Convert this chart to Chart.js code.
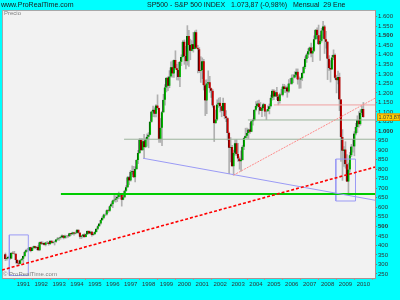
<!DOCTYPE html>
<html>
<head>
<meta charset="utf-8">
<script src="https://cdn.jsdelivr.net/npm/chart.js@4.4.0/dist/chart.umd.min.js"></script>
<style>
  html, body { margin: 0; padding: 0; background: #00ffff; overflow: hidden; }
  canvas { display: block; }
</style>
</head>
<body>
<canvas id="chart" width="400" height="300"></canvas>
<script>
// monthly candles, first one is Jan 1990, last one Jan 2010
const firstYear = 1990;

const opens = [
  353, 329, 332, 340, 331, 361, 358, 356, 323, 306, 304, 322,
  330, 344, 367, 375, 375, 390, 371, 388, 395, 388, 392, 375,
  417, 409, 413, 404, 415, 415, 408, 424, 414, 418, 419, 431,
  436, 439, 443, 452, 440, 450, 451, 448, 464, 459, 468, 462,
  466, 482, 467, 446, 451, 457, 444, 458, 475, 463, 472, 454,
  459, 470, 487, 501, 515, 533, 545, 562, 562, 584, 582, 605,
  616, 636, 640, 646, 654, 669, 671, 640, 652, 687, 705, 757,
  741, 786, 791, 757, 801, 848, 885, 954, 899, 947, 915, 955,
  970, 980, 1049, 1102, 1112, 1091, 1134, 1121, 957, 1017, 1099, 1164,
  1229, 1280, 1238, 1286, 1335, 1302, 1373, 1329, 1320, 1283, 1363, 1389,
  1469, 1394, 1366, 1499, 1452, 1421, 1455, 1431, 1518, 1437, 1429, 1315,
  1320, 1366, 1240, 1160, 1249, 1256, 1224, 1211, 1134, 1041, 1060, 1139,
  1148, 1130, 1107, 1147, 1077, 1067, 990, 912, 916, 815, 886, 936,
  880, 856, 841, 848, 917, 964, 975, 990, 1008, 996, 1051, 1058,
  1112, 1131, 1145, 1126, 1107, 1121, 1141, 1102, 1104, 1115, 1130, 1174,
  1212, 1181, 1204, 1181, 1157, 1192, 1191, 1234, 1220, 1229, 1207, 1249,
  1248, 1280, 1281, 1295, 1311, 1270, 1270, 1277, 1304, 1336, 1378, 1401,
  1418, 1438, 1407, 1421, 1482, 1531, 1503, 1455, 1474, 1527, 1549, 1481,
  1468, 1379, 1331, 1323, 1386, 1400, 1280, 1267, 1283, 1166, 969, 896,
  903, 826, 735, 798, 873, 919, 919, 987, 1021, 1057, 1036, 1096,
  1115
];
const highs = [
  360, 336, 344, 347, 362, 368, 369, 357, 326, 319, 324, 332,
  344, 370, 380, 385, 390, 391, 391, 397, 396, 395, 399, 418,
  421, 419, 414, 417, 422, 417, 425, 425, 423, 423, 432, 442,
  443, 449, 456, 452, 454, 453, 451, 464, 464, 470, 469, 471,
  483, 482, 468, 453, 457, 462, 459, 477, 476, 475, 474, 466,
  472, 489, 504, 515, 534, 551, 564, 565, 587, 587, 609, 622,
  638, 665, 660, 660, 680, 673, 672, 670, 690, 714, 762, 762,
  794, 817, 815, 812, 850, 899, 961, 961, 960, 983, 964, 986,
  992, 1050, 1105, 1131, 1122, 1139, 1190, 1121, 1066, 1104, 1193, 1244,
  1280, 1284, 1317, 1363, 1368, 1373, 1421, 1350, 1361, 1364, 1400, 1474,
  1478, 1445, 1553, 1528, 1482, 1475, 1518, 1525, 1530, 1450, 1438, 1390,
  1384, 1376, 1268, 1269, 1316, 1287, 1226, 1218, 1133, 1110, 1164, 1173,
  1176, 1131, 1173, 1147, 1107, 1070, 994, 966, 925, 900, 954, 955,
  935, 865, 896, 924, 966, 1015, 1016, 1011, 1040, 1054, 1064, 1112,
  1155, 1159, 1163, 1150, 1128, 1146, 1141, 1110, 1132, 1142, 1188, 1218,
  1217, 1212, 1229, 1192, 1199, 1219, 1246, 1245, 1237, 1233, 1270, 1276,
  1295, 1297, 1311, 1326, 1326, 1284, 1281, 1307, 1340, 1390, 1407, 1432,
  1441, 1462, 1439, 1499, 1533, 1541, 1556, 1504, 1539, 1576, 1555, 1523,
  1471, 1396, 1370, 1397, 1426, 1405, 1293, 1314, 1304, 1167, 1008, 918,
  944, 877, 832, 888, 930, 956, 997, 1040, 1080, 1102, 1111, 1130,
  1150
];
const lows = [
  320, 322, 331, 325, 330, 357, 354, 307, 301, 295, 303, 321,
  309, 340, 363, 369, 371, 366, 372, 381, 383, 377, 372, 372,
  404, 404, 401, 397, 410, 401, 404, 411, 412, 402, 416, 426,
  426, 433, 440, 434, 436, 439, 442, 446, 453, 457, 454, 460,
  464, 463, 436, 436, 442, 442, 444, 457, 461, 460, 449, 453,
  457, 469, 482, 500, 511, 530, 540, 555, 559, 573, 578, 603,
  598, 628, 627, 630, 644, 656, 606, 639, 650, 683, 703, 719,
  737, 773, 756, 733, 798, 829, 882, 898, 899, 855, 914, 920,
  912, 980, 1046, 1076, 1074, 1074, 1114, 940, 940, 923, 1096, 1136,
  1205, 1212, 1227, 1282, 1282, 1281, 1324, 1268, 1267, 1233, 1343, 1387,
  1350, 1326, 1346, 1339, 1374, 1420, 1414, 1431, 1435, 1305, 1306, 1255,
  1275, 1215, 1081, 1091, 1242, 1203, 1176, 1125, 945, 1041, 1055, 1124,
  1100, 1075, 1104, 1064, 1049, 953, 776, 838, 815, 769, 873, 872,
  841, 800, 789, 847, 902, 962, 962, 961, 988, 996, 1031, 1054,
  1105, 1124, 1088, 1107, 1076, 1114, 1078, 1060, 1102, 1090, 1127, 1162,
  1164, 1180, 1164, 1137, 1146, 1188, 1184, 1202, 1201, 1177, 1201, 1246,
  1245, 1253, 1278, 1288, 1246, 1224, 1225, 1264, 1301, 1327, 1360, 1385,
  1403, 1389, 1364, 1416, 1480, 1484, 1454, 1371, 1466, 1490, 1407, 1435,
  1270, 1317, 1257, 1324, 1374, 1272, 1200, 1247, 1107, 840, 741, 815,
  805, 735, 667, 784, 866, 889, 870, 979, 992, 1020, 1030, 1086,
  1071
];
const closes = [
  329, 332, 340, 331, 361, 358, 356, 323, 306, 304, 322, 330,
  344, 367, 375, 375, 390, 371, 388, 395, 388, 392, 375, 417,
  409, 413, 404, 415, 415, 408, 424, 414, 418, 419, 431, 436,
  439, 443, 452, 440, 450, 451, 448, 464, 459, 468, 462, 466,
  482, 467, 446, 451, 457, 444, 458, 475, 463, 472, 454, 459,
  470, 487, 501, 515, 533, 545, 562, 562, 584, 582, 605, 616,
  636, 640, 646, 654, 669, 671, 640, 652, 687, 705, 757, 741,
  786, 791, 757, 801, 848, 885, 954, 899, 947, 915, 955, 970,
  980, 1049, 1102, 1112, 1091, 1134, 1121, 957, 1017, 1099, 1164, 1229,
  1280, 1238, 1286, 1335, 1302, 1373, 1329, 1320, 1283, 1363, 1389, 1469,
  1394, 1366, 1499, 1452, 1421, 1455, 1431, 1518, 1437, 1429, 1315, 1320,
  1366, 1240, 1160, 1249, 1256, 1224, 1211, 1134, 1041, 1060, 1139, 1148,
  1130, 1107, 1147, 1077, 1067, 990, 912, 916, 815, 886, 936, 880,
  856, 841, 848, 917, 964, 975, 990, 1008, 996, 1051, 1058, 1112,
  1131, 1145, 1126, 1107, 1121, 1141, 1102, 1104, 1115, 1130, 1174, 1212,
  1181, 1204, 1181, 1157, 1192, 1191, 1234, 1220, 1229, 1207, 1249, 1248,
  1280, 1281, 1295, 1311, 1270, 1270, 1277, 1304, 1336, 1378, 1401, 1418,
  1438, 1407, 1421, 1482, 1531, 1503, 1455, 1474, 1527, 1549, 1481, 1468,
  1379, 1331, 1323, 1386, 1400, 1280, 1267, 1283, 1166, 969, 896, 903,
  826, 735, 798, 873, 919, 919, 987, 1021, 1057, 1036, 1096, 1115,
  1074
];

const yearTicks = [1991, 1992, 1993, 1994, 1995, 1996, 1997, 1998, 1999, 2000,
  2001, 2002, 2003, 2004, 2005, 2006, 2007, 2008, 2009, 2010];
const priceTicks = [250, 300, 350, 400, 450, 500, 550, 600, 650, 700, 750, 800,
  850, 900, 950, 1000, 1050, 1100, 1150, 1200, 1250, 1300, 1350, 1400, 1450,
  1500, 1550, 1600];
const lastPrice = 1073.87;

// drawn objects: [year1, price1, year2, price2]
const redTrend = [1989.81, 271, 2010.65, 811];
const pinkTrend = [2002.75, 769, 2010.65, 1172];
const pinkLevel = [2005.0, 1137, 2010.65, 1137];
const grayLevel1 = [2003.55, 1058, 2010.65, 1058];
const grayLevel2 = [1996.63, 957, 2010.65, 957];
const blueTrend = [1997.7, 857, 2010.65, 637];
const greenLevel = [1993.1, 670, 2010.65, 670];
const box1990 = [1990.22, 242, 1991.28, 455];
const box2009 = [2008.46, 633, 2009.56, 853];

const xs = opens.map((_, i) => firstYear + i / 12);

function fmtPrice(v) {
  if (v < 1000) return String(v);
  return Math.floor(v / 1000) + '.' + String(v % 1000).padStart(3, '0');
}

function seg(a, color, width, dash) {
  return {
    type: 'line',
    data: [{ x: a[0], y: a[1] }, { x: a[2], y: a[3] }],
    borderColor: color,
    borderWidth: width,
    borderDash: dash || [],
    pointRadius: 0,
    order: 0
  };
}
function rect(a, color) {
  return {
    type: 'line',
    data: [{ x: a[0], y: a[1] }, { x: a[2], y: a[1] }, { x: a[2], y: a[3] },
           { x: a[0], y: a[3] }, { x: a[0], y: a[1] }],
    borderColor: color,
    borderWidth: 1,
    pointRadius: 0,
    order: 0
  };
}

const frame = {
  id: 'frame',
  beforeDraw(chart) {
    const { ctx, chartArea: a } = chart;
    ctx.save();
    ctx.fillStyle = '#00ffff';
    ctx.fillRect(0, 0, chart.width, chart.height);
    ctx.fillStyle = '#f2f2f2';
    ctx.fillRect(a.left, a.top, a.right - a.left, a.bottom - a.top);
    ctx.strokeStyle = '#a8a8a8';
    ctx.lineWidth = 1;
    ctx.beginPath();
    ctx.moveTo(a.left, a.top + 0.5);
    ctx.lineTo(a.right, a.top + 0.5);
    ctx.moveTo(a.left + 0.5, a.top);
    ctx.lineTo(a.left + 0.5, a.bottom);
    ctx.stroke();
    ctx.restore();
  },
  afterDraw(chart) {
    const { ctx, chartArea: a } = chart;
    ctx.save();
    ctx.textBaseline = 'middle';
    ctx.fillStyle = '#1a1a1a';
    ctx.font = '7px "Liberation Sans", Arial, sans-serif';
    ctx.textAlign = 'left';
    ctx.fillText('www.ProRealTime.com', 1, 5);
    ctx.fillText('SP500 - S&P 500 INDEX   1.073,87 (-0,98%)   Mensual  29 Ene', 147, 5);
    ctx.fillStyle = '#808080';
    ctx.font = '6px "Liberation Sans", Arial, sans-serif';
    ctx.fillText('Precio', a.left + 2, a.top + 3);
    ctx.fillText('© ProRealTime.com', a.left + 1, a.bottom - 4);
    // last price tag
    const y = chart.scales.y.getPixelForValue(lastPrice);
    ctx.fillStyle = '#ffd200';
    ctx.strokeStyle = '#e09000';
    ctx.fillRect(a.right + 2, y - 3.5, 23, 7);
    ctx.strokeRect(a.right + 2.5, y - 3, 22, 6.5);
    ctx.fillStyle = '#404040';
    ctx.font = '5.5px "Liberation Sans", Arial, sans-serif';
    ctx.fillText('1.073,87', a.right + 3.5, y + 0.5);
    ctx.restore();
  }
};

new Chart(document.getElementById('chart'), {
  type: 'bar',
  data: {
    datasets: [
      seg(redTrend, '#ff0000', 1.6, [3, 2]),
      seg(pinkTrend, '#ff8c8c', 1, [2, 1]),
      seg(pinkLevel, '#f0a0a0', 1),
      seg(grayLevel1, '#9cb49c', 1),
      seg(grayLevel2, '#9cb49c', 1),
      seg(blueTrend, '#9a9af5', 1),
      seg(greenLevel, '#00cc00', 2),
      rect(box1990, '#9a9af5'),
      rect(box2009, '#9a9af5'),
      {
        label: 'body',
        data: xs.map((x, i) => ({ x, y: [opens[i], closes[i]] })),
        backgroundColor: xs.map((x, i) => closes[i] >= opens[i] ? '#00b400' : '#c80000'),
        borderColor: '#000000',
        borderWidth: { left: 0.6, right: 0, top: 0, bottom: 0 },
        borderSkipped: false,
        barThickness: 2,
        grouped: false,
        order: 1
      },
      {
        label: 'wick',
        data: xs.map((x, i) => ({ x, y: [lows[i], highs[i]] })),
        backgroundColor: '#b0b0b0',
        barThickness: 1,
        grouped: false,
        order: 2
      }
    ]
  },
  options: {
    responsive: false,
    animation: false,
    devicePixelRatio: 1,
    layout: { padding: { left: 2, top: 10, right: 0, bottom: 0 } },
    plugins: { legend: { display: false }, tooltip: { enabled: false } },
    scales: {
      x: {
        type: 'linear',
        min: 1989.81,
        max: 2010.65,
        offset: false,
        afterFit: s => { s.height = 22; },
        afterBuildTicks: s => { s.ticks = yearTicks.map(v => ({ value: v })); },
        grid: { drawOnChartArea: false, drawTicks: true, tickLength: 2, color: '#b09090' },
        border: { color: '#b09090' },
        ticks: {
          color: '#333333',
          padding: 1,
          maxRotation: 0,
          autoSkip: false,
          font: { size: 6, family: '"Liberation Sans", Arial, sans-serif' },
          callback: v => String(v)
        }
      },
      y: {
        type: 'linear',
        position: 'right',
        min: 229,
        max: 1635,
        afterFit: s => { s.width = 25; },
        afterBuildTicks: s => { s.ticks = priceTicks.map(v => ({ value: v })); },
        grid: { drawOnChartArea: false, drawTicks: true, tickLength: 2, color: '#708080' },
        border: { color: '#b09090' },
        ticks: {
          color: '#333333',
          padding: 1,
          autoSkip: false,
          font: ctx => ({
            size: 6,
            family: '"Liberation Sans", Arial, sans-serif',
            weight: ctx.tick && ctx.tick.value % 500 === 0 ? 'bold' : 'normal'
          }),
          callback: v => fmtPrice(v)
        }
      }
    }
  },
  plugins: [frame]
});
</script>
</body>
</html>
